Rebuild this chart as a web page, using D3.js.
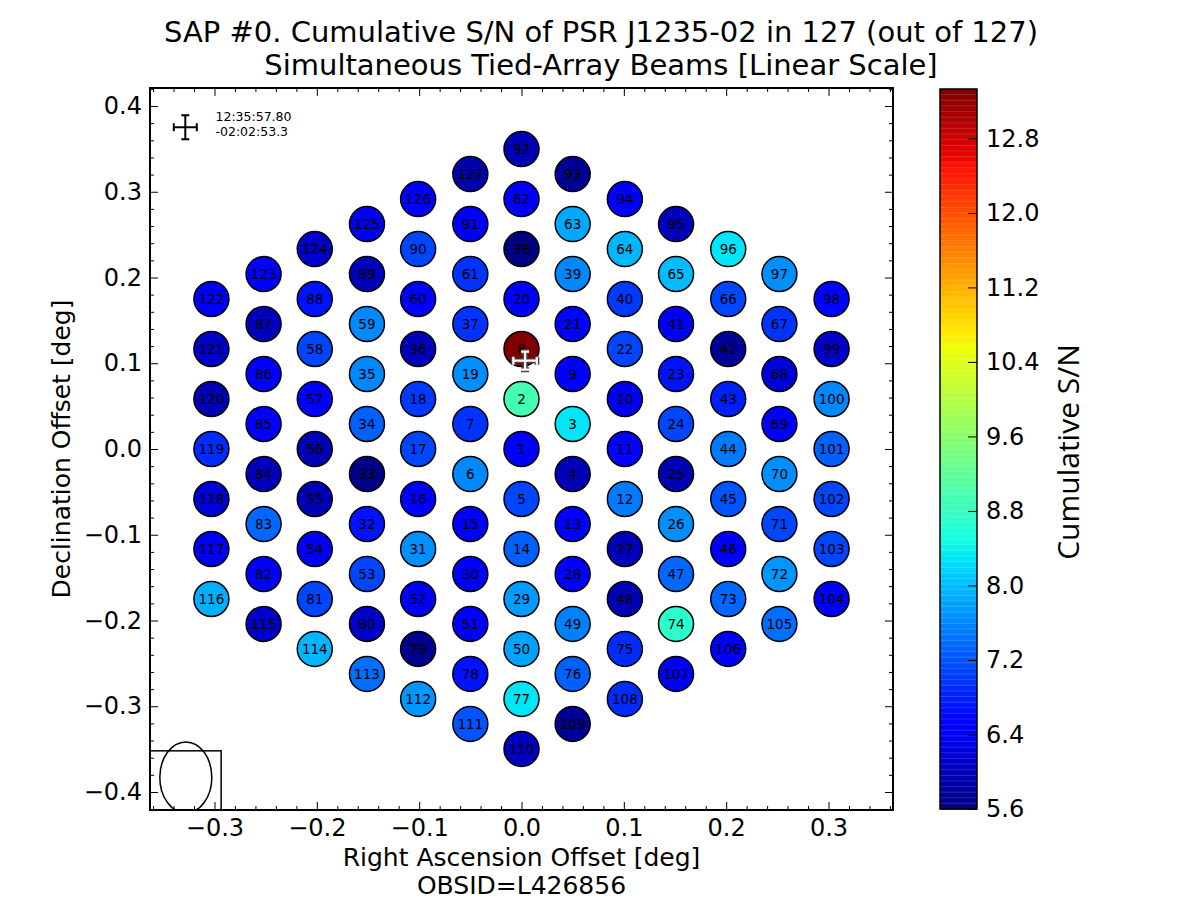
<!DOCTYPE html>
<html>
<head>
<meta charset="utf-8">
<script src="https://cdn.jsdelivr.net/npm/d3@7/dist/d3.min.js"></script>
<style>
  body { margin: 0; background: #fff; }
  svg { display: block; font-family: "DejaVu Sans", sans-serif; }
</style>
</head>
<body>
<svg id="chart" width="1200" height="900"></svg>
<script>
// Data: beam columns (RA offset in deg), beam numbers top -> bottom in each column
const raCols = [-0.303, -0.252, -0.202, -0.151, -0.101, -0.050, 0, 0.050, 0.101, 0.151, 0.202, 0.252, 0.303];
const beamCols = [
    [122, 121, 120, 119, 118, 117, 116],
    [123, 87, 86, 85, 84, 83, 82, 115],
    [124, 88, 58, 57, 56, 55, 54, 81, 114],
    [125, 89, 59, 35, 34, 33, 32, 53, 80, 113],
    [126, 90, 60, 36, 18, 17, 16, 31, 52, 79, 112],
    [127, 91, 61, 37, 19, 7, 6, 15, 30, 51, 78, 111],
    [92, 62, 38, 20, 8, 2, 1, 5, 14, 29, 50, 77, 110],
    [93, 63, 39, 21, 9, 3, 4, 13, 28, 49, 76, 109],
    [94, 64, 40, 22, 10, 11, 12, 27, 48, 75, 108],
    [95, 65, 41, 23, 24, 25, 26, 47, 74, 107],
    [96, 66, 42, 43, 44, 45, 46, 73, 106],
    [97, 67, 68, 69, 70, 71, 72, 105],
    [98, 99, 100, 101, 102, 103, 104]
];
const decStep = 0.0583;

// cumulative S/N for beams 1..127
const snr = [
    6.50, 8.95, 8.30, 5.95, 7.10, 7.60, 6.95, 13.33, 6.50, 6.35,   // 1-10
    6.60, 7.50, 6.55, 7.30, 6.50, 6.45, 7.10, 7.00, 7.65, 6.50,   // 11-20
    6.60, 7.10, 6.70, 7.10, 5.95, 7.65, 6.00, 6.50, 7.75, 6.50,   // 21-30
    7.65, 6.70, 5.65, 7.30, 7.60, 6.00, 6.95, 5.62, 7.60, 7.00,   // 31-40
    6.40, 5.75, 6.80, 7.50, 7.20, 6.50, 7.35, 5.95, 7.55, 7.80,   // 41-50
    6.50, 6.40, 7.10, 6.40, 5.95, 5.95, 6.50, 7.10, 7.60, 6.50,   // 51-60
    6.95, 6.50, 7.85, 7.95, 8.00, 7.10, 6.95, 6.20, 6.55, 7.65,   // 61-70
    7.10, 7.70, 7.35, 8.70, 6.90, 7.30, 8.30, 6.70, 5.70, 6.10,   // 71-80
    7.10, 6.55, 7.35, 6.00, 6.50, 6.50, 6.00, 6.70, 6.00, 7.10,   // 81-90
    6.50, 5.95, 5.75, 6.50, 6.00, 8.30, 7.65, 6.60, 6.10, 7.60,   // 91-100
    7.30, 7.10, 7.10, 6.55, 7.40, 6.50, 6.40, 6.90, 5.75, 6.05,   // 101-110
    7.20, 7.70, 7.40, 7.95, 6.10, 7.90, 6.40, 6.20, 6.90, 5.95,   // 111-120
    6.10, 6.50, 6.50, 6.10, 6.35, 6.50, 5.90                       // 121-127
];

const cbTicks = [5.6, 6.4, 7.2, 8.0, 8.8, 9.6, 10.4, 11.2, 12.0, 12.8];
const xTicks = [-0.3, -0.2, -0.1, 0.0, 0.1, 0.2, 0.3];
const yTicks = [-0.4, -0.3, -0.2, -0.1, 0.0, 0.1, 0.2, 0.3, 0.4];

// pulsar position and beam shape (deg)
const psr = { ra: 0.0035, dec: 0.103, era: 0.0115, edec: 0.0105 };
const beamShape = { ra: -0.328, dec: -0.383, rx: 0.0254, ry: 0.0414 };

// Layout
const plot = { left: 150, right: 893, top: 88, bottom: 810 };
const cb = { left: 940, right: 977, top: 89, bottom: 809 };

const svg = d3.select("#chart");

const x = d3.scaleLinear().domain([-0.363, 0.363]).range([plot.left, plot.right]);
const y = d3.scaleLinear().domain([-0.421, 0.421]).range([plot.bottom, plot.top]);
const vmin = 5.6, vmax = 13.33;

// matplotlib "jet"
const jetData = {
    r: [[0, 0], [0.35, 0], [0.66, 1], [0.89, 1], [1, 0.5]],
    g: [[0, 0], [0.125, 0], [0.375, 1], [0.64, 1], [0.91, 0], [1, 0]],
    b: [[0, 0.5], [0.11, 1], [0.34, 1], [0.65, 0], [1, 0]]
};
function seg(pts, t) {
    for (let i = 1; i < pts.length; i++) {
        if (t <= pts[i][0]) {
            const [t0, v0] = pts[i - 1], [t1, v1] = pts[i];
            return v0 + (v1 - v0) * (t - t0) / (t1 - t0);
        }
    }
    return pts[pts.length - 1][1];
}
function jet(t) {
    t = Math.max(0, Math.min(1, t));
    return d3.rgb(seg(jetData.r, t) * 255, seg(jetData.g, t) * 255, seg(jetData.b, t) * 255).toString();
}
const color = v => jet((v - vmin) / (vmax - vmin));

// beams table
const beams = [];
beamCols.forEach((col, ci) => {
    const top = (col.length - 1) / 2 * decStep;
    col.forEach((id, ri) => {
        beams.push({ id, ra: raCols[ci], dec: top - ri * decStep, snr: snr[id - 1] });
    });
});

// Clip
svg.append("defs").append("clipPath").attr("id", "clip")
    .append("rect")
    .attr("x", plot.left).attr("y", plot.top)
    .attr("width", plot.right - plot.left).attr("height", plot.bottom - plot.top);

// Axes ticks
const minorX = d3.range(-36, 37, 2).map(d => d / 100).filter(d => Math.abs(d * 10 - Math.round(d * 10)) > 1e-6);
const minorY = d3.range(-42, 43, 2).map(d => d / 100).filter(d => Math.abs(d * 10 - Math.round(d * 10)) > 1e-6);
const fmt = d3.format(".1f");

const axes = svg.append("g").attr("class", "axes");

axes.append("g").attr("transform", `translate(0,${plot.bottom})`)
    .call(d3.axisBottom(x).tickValues(xTicks).tickFormat(fmt).tickSize(-8).tickSizeOuter(0).tickPadding(9));
axes.append("g").attr("transform", `translate(0,${plot.bottom})`)
    .call(d3.axisBottom(x).tickValues(minorX).tickFormat("").tickSize(-4).tickSizeOuter(0));
axes.append("g").attr("transform", `translate(0,${plot.top})`)
    .call(d3.axisTop(x).tickValues(xTicks).tickFormat("").tickSize(-8).tickSizeOuter(0));
axes.append("g").attr("transform", `translate(0,${plot.top})`)
    .call(d3.axisTop(x).tickValues(minorX).tickFormat("").tickSize(-4).tickSizeOuter(0));

axes.append("g").attr("transform", `translate(${plot.left},0)`)
    .call(d3.axisLeft(y).tickValues(yTicks).tickFormat(fmt).tickSize(-8).tickSizeOuter(0).tickPadding(8));
axes.append("g").attr("transform", `translate(${plot.left},0)`)
    .call(d3.axisLeft(y).tickValues(minorY).tickFormat("").tickSize(-4).tickSizeOuter(0));
axes.append("g").attr("transform", `translate(${plot.right},0)`)
    .call(d3.axisRight(y).tickValues(yTicks).tickFormat("").tickSize(-8).tickSizeOuter(0));
axes.append("g").attr("transform", `translate(${plot.right},0)`)
    .call(d3.axisRight(y).tickValues(minorY).tickFormat("").tickSize(-4).tickSizeOuter(0));

axes.selectAll(".domain").remove();
axes.selectAll(".tick line").attr("stroke", "#000").attr("stroke-width", 1);
axes.selectAll(".tick text")
    .attr("fill", "#000")
    .attr("font-size", "24px")
    .attr("font-family", "DejaVu Sans, sans-serif");

// Beams
const gBeams = svg.append("g").attr("clip-path", "url(#clip)");

gBeams.selectAll("circle.beam")
    .data(beams)
    .enter().append("circle")
    .attr("class", "beam")
    .attr("cx", d => x(d.ra))
    .attr("cy", d => y(d.dec))
    .attr("r", 17.5)
    .attr("fill", d => color(d.snr))
    .attr("stroke", "#000")
    .attr("stroke-width", 1.5);

gBeams.selectAll("text.lbl")
    .data(beams)
    .enter().append("text")
    .attr("class", "lbl")
    .attr("x", d => x(d.ra))
    .attr("y", d => y(d.dec))
    .attr("dy", "0.36em")
    .attr("text-anchor", "middle")
    .attr("font-size", "13.5px")
    .attr("fill", "#000")
    .text(d => d.id);

// Beam shape in lower-left corner
gBeams.append("rect")
    .attr("x", x(-0.363) - 2)
    .attr("y", y(-0.352))
    .attr("width", x(-0.2935) - x(-0.363) + 2)
    .attr("height", plot.bottom - y(-0.352) + 2)
    .attr("fill", "none").attr("stroke", "#000").attr("stroke-width", 1.5);
gBeams.append("ellipse")
    .attr("cx", x(beamShape.ra)).attr("cy", y(beamShape.dec))
    .attr("rx", x(beamShape.ra + beamShape.rx) - x(beamShape.ra))
    .attr("ry", y(beamShape.dec) - y(beamShape.dec + beamShape.ry))
    .attr("fill", "none").attr("stroke", "#000").attr("stroke-width", 1.5);

// Error-bar cross marker
function errCross(g, cx, cy, hx, hy, col, lw) {
    const cap = 4;
    g.append("path")
        .attr("d", `M${cx - hx},${cy}H${cx + hx}M${cx},${cy - hy}V${cy + hy}` +
            `M${cx - hx},${cy - cap}V${cy + cap}M${cx + hx},${cy - cap}V${cy + cap}` +
            `M${cx - cap},${cy - hy}H${cx + cap}M${cx - cap},${cy + hy}H${cx + cap}`)
        .attr("fill", "none").attr("stroke", col).attr("stroke-width", lw);
}
const px = x(psr.ra), py = y(psr.dec);
const hx = x(psr.ra + psr.era) - px, hy = py - y(psr.dec + psr.edec);
errCross(gBeams, px, py, hx, hy, "#444", 5);
errCross(gBeams, px, py, hx, hy, "#fff", 2.2);

// Legend marker in top-left
errCross(svg, x(-0.3285), y(0.3753), 11.5, 12, "#000", 2);
const legText = svg.append("text").attr("font-size", "12.5px").attr("fill", "#000");
legText.append("tspan").attr("x", x(-0.299)).attr("y", y(0.3825)).text("12:35:57.80");
legText.append("tspan").attr("x", x(-0.299)).attr("y", y(0.3645)).text("-02:02:53.3");

// Frame
svg.append("rect")
    .attr("x", plot.left).attr("y", plot.top)
    .attr("width", plot.right - plot.left).attr("height", plot.bottom - plot.top)
    .attr("fill", "none").attr("stroke", "#000").attr("stroke-width", 2);

// Colorbar
const cy = d3.scaleLinear().domain([vmin, vmax]).range([cb.bottom, cb.top]);
const nBands = 128;
const bands = d3.range(nBands).map(i => vmin + (i + 0.5) * (vmax - vmin) / nBands);
const bandH = (cb.bottom - cb.top) / nBands;
const gcb = svg.append("g");
gcb.selectAll("rect.band")
    .data(bands)
    .enter().append("rect")
    .attr("class", "band")
    .attr("x", cb.left)
    .attr("y", d => cy(d) - bandH / 2)
    .attr("width", cb.right - cb.left)
    .attr("height", bandH + 0.6)
    .attr("fill", d => color(d));
gcb.selectAll("line.bandline")
    .data(bands)
    .enter().append("line")
    .attr("class", "bandline")
    .attr("x1", cb.left).attr("x2", cb.right)
    .attr("y1", d => cy(d) - bandH / 2).attr("y2", d => cy(d) - bandH / 2)
    .attr("stroke", "#fff").attr("stroke-opacity", 0.18).attr("stroke-width", 0.8);

gcb.append("rect")
    .attr("x", cb.left).attr("y", cb.top)
    .attr("width", cb.right - cb.left).attr("height", cb.bottom - cb.top)
    .attr("fill", "none").attr("stroke", "#000").attr("stroke-width", 1.5);

const cbAxis = gcb.append("g").attr("transform", `translate(${cb.right},0)`)
    .call(d3.axisRight(cy).tickValues(cbTicks).tickFormat(fmt).tickSize(-9).tickSizeOuter(0).tickPadding(9));
cbAxis.select(".domain").remove();
cbAxis.selectAll(".tick line").attr("stroke", "#000");
cbAxis.selectAll(".tick text")
    .attr("fill", "#000")
    .attr("font-size", "24px")
    .attr("font-family", "DejaVu Sans, sans-serif");

// Labels
svg.append("text")
    .attr("x", 601).attr("y", 42)
    .attr("text-anchor", "middle").attr("font-size", "29px")
    .text("SAP #0. Cumulative S/N of PSR J1235-02 in 127 (out of 127)");
svg.append("text")
    .attr("x", 601).attr("y", 75)
    .attr("text-anchor", "middle").attr("font-size", "29px")
    .text("Simultaneous Tied-Array Beams [Linear Scale]");

svg.append("text")
    .attr("x", (plot.left + plot.right) / 2).attr("y", 866)
    .attr("text-anchor", "middle").attr("font-size", "25px")
    .text("Right Ascension Offset [deg]");
svg.append("text")
    .attr("x", (plot.left + plot.right) / 2).attr("y", 894)
    .attr("text-anchor", "middle").attr("font-size", "25px")
    .text("OBSID=L426856");

svg.append("text")
    .attr("transform", `translate(70,${(plot.top + plot.bottom) / 2}) rotate(-90)`)
    .attr("text-anchor", "middle").attr("font-size", "25px")
    .text("Declination Offset [deg]");

svg.append("text")
    .attr("transform", `translate(1079,${(cb.top + cb.bottom) / 2 + 3}) rotate(-90)`)
    .attr("text-anchor", "middle").attr("font-size", "30px")
    .attr("font-family", "Open Sans, sans-serif")
    .text("Cumulative S/N");
</script>
</body>
</html>
